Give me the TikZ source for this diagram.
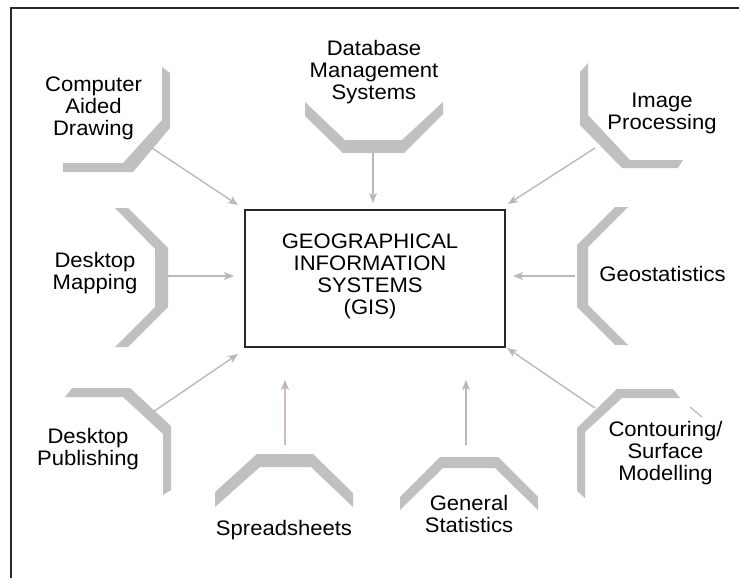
\documentclass[tikz,border=0pt]{standalone}
\usepackage{fontspec}
\setmainfont{Liberation Sans}[FakeStretch=1.05]
\usetikzlibrary{arrows.meta}
\definecolor{bandgray}{RGB}{192,192,192}
\definecolor{arrowgray}{RGB}{185,185,185}
\definecolor{rosegray}{RGB}{214,186,186}
\definecolor{framegray}{RGB}{40,40,40}
\tikzset{
  bracket/.style={fill=bandgray, draw=none},
  label/.style={align=center, inner sep=0pt, font=\fontsize{21}{22}\selectfont, text=black},
  feed/.style={draw=arrowgray, line width=1.4pt, -{Stealth[length=10pt,width=8pt,inset=2.5pt]}},
}
\begin{document}
\begin{tikzpicture}[x=1pt,y=-1pt]
\useasboundingbox (0,0) rectangle (739,578);
% outer frame (top and left edges)
\draw[framegray, line width=2.2pt] (11,578) -- (11,8.3) -- (739,8.3);

% brackets
\fill[bracket] (63,163) -- (123,163) -- (162,120) -- (162,67) -- (170,73) -- (170,128) -- (133,172) -- (63,172) -- cycle;
\fill[bracket] (305,102) -- (345,140) -- (402,140) -- (443,102) -- (443,114) -- (404,153) -- (343,153) -- (305,116) -- cycle;
\fill[bracket] (580,72) -- (588,63) -- (588,115) -- (630,160) -- (683,160) -- (678,168) -- (622,168) -- (580,125) -- cycle;
\fill[bracket] (115,208) -- (128,208) -- (168,248) -- (168,307) -- (128,347) -- (115,347) -- (155,307) -- (155,249) -- cycle;
\fill[bracket] (615,207) -- (628,207) -- (588,247) -- (588,305) -- (628,345) -- (615,345) -- (577,307) -- (577,245) -- cycle;
\fill[bracket] (72,388) -- (130,388) -- (171,426) -- (171,490) -- (163,495) -- (163,434) -- (123,397) -- (65,397) -- cycle;
\fill[bracket] (257,454) -- (313,454) -- (353,493) -- (353,507) -- (311,467) -- (260,467) -- (215,507) -- (215,492) -- cycle;
\fill[bracket] (440,457) -- (498,457) -- (538,497) -- (538,510) -- (495,468) -- (443,468) -- (400,510) -- (400,497) -- cycle;
\fill[bracket] (617,389) -- (673,389) -- (680,398) -- (622,398) -- (585,432) -- (585,498) -- (577,491) -- (577,428) -- cycle;
\draw[arrowgray, line width=1.2pt] (690,407) -- (702,417);

% central box
\node[draw=framegray, line width=1.8pt, minimum width=260pt, minimum height=137pt, inner sep=0pt] (gisbox) at (375,278.5) {};
\node[label] (gis) at (370,276.3) {GEOGRAPHICAL\\INFORMATION\\SYSTEMS\\(GIS)};

% labels
\node[label] (cad) at (93.5,108.4) {Computer\\Aided\\Drawing};
\node[label] (dbms) at (374,71.8) {Database\\Management\\Systems};
\node[label] (img) at (662,113) {Image\\Processing};
\node[label] (dm) at (95,272.7) {Desktop\\Mapping};
\node[label] (geo) at (662.5,274) {Geostatistics};
\node[label] (dp) at (88,448.7) {Desktop\\Publishing};
\node[label] (spr) at (284,529.7) {Spreadsheets};
\node[label] (gen) at (469,513.7) {General\\Statistics};
\node[label] (con) at (665.5,453) {Contouring/\\Surface\\Modelling};

% connector end points
\coordinate (cadS) at (152,148);  \coordinate (cadE) at (238,205);
\coordinate (dbmsS) at (373,153); \coordinate (dbmsE) at (373,203);
\coordinate (imgS) at (595,148);  \coordinate (imgE) at (508,204);
\coordinate (dmS) at (168,276);   \coordinate (dmE) at (234,276);
\coordinate (geoS) at (575,276);  \coordinate (geoE) at (513,276);
\coordinate (dpS) at (153,412);   \coordinate (dpE) at (238,354);
\coordinate (sprS) at (285,445);  \coordinate (sprE) at (285,380);
\coordinate (genS) at (466,445);  \coordinate (genE) at (466,380);
\coordinate (conS) at (595,408);  \coordinate (conE) at (507,348);

\draw[feed] (cadS) -- (cadE);
\draw[feed] (dbmsS) -- (dbmsE);
\draw[feed] (imgS) -- (imgE);
\draw[feed] (dmS) -- (dmE);
\draw[feed] (geoS) -- (geoE);
\draw[feed] (dpS) -- (dpE);
\draw[feed, draw=rosegray, -{Stealth[length=10pt,width=8pt,inset=2.5pt,color=arrowgray]}] (sprS) -- (sprE);
\draw[feed] (genS) -- (genE);
\draw[feed] (conS) -- (conE);
\end{tikzpicture}
\end{document}
